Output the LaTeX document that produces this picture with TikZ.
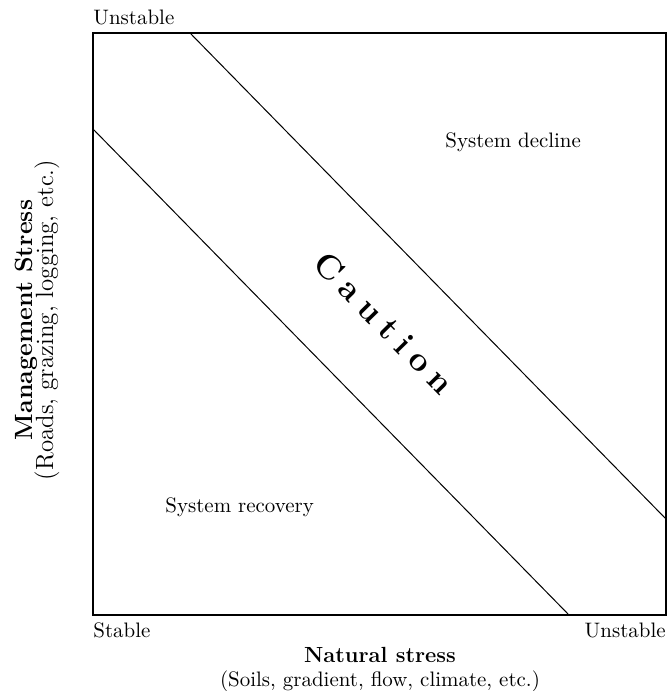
\documentclass[tikz,border=0pt]{standalone}
\usepackage{amsmath}
\usetikzlibrary{positioning, calc}

\tikzset{
	txt/.style={inner sep=0pt, font=\fontsize{10.5}{12}\selectfont},
	axis title/.style={inner sep=0pt, font=\fontsize{11}{13}\selectfont\bfseries},
	side/.style={inner sep=0pt, rotate=90, anchor=base},
	caution/.style={inner sep=0pt, rotate=-45.6, anchor=mid, font=\fontsize{17}{19}\selectfont\bfseries},
}
\newcommand{\gap}{\hspace{4.3pt}}

\begin{document}
\begin{tikzpicture}[x=0.5bp, y=-0.5bp]
	\useasboundingbox (0,0) rectangle (668,691);
	\coordinate (sw) at (93,615);
	\coordinate (nw) at (93,33);
	\coordinate (ne) at (666,33);
	\coordinate (se) at (666,615);
	\draw[line width=0.8bp] (sw) rectangle (ne);
	\coordinate (upper1) at (190,33);
	\coordinate (upper2) at (666,519);
	\coordinate (lower1) at (93,129);
	\coordinate (lower2) at (569,615);
	\draw[line width=0.5bp] (upper1)--(upper2);
	\draw[line width=0.5bp] (lower1)--(lower2);
	\node[txt, anchor=base west] (ytop) at ($(nw)+(0,-8)$) {Unstable};
	\node[txt, anchor=base west] (xlow) at ($(sw)+(0,22)$) {Stable};
	\node[txt, anchor=base east] (xtop) at ($(se)+(0,22)$) {Unstable};
	\node[axis title, anchor=base] (xtitle) at (380,662) {Natural stress};
	\node[txt, anchor=base] (xsub) at ($(xtitle.base)+(0,24)$) {(Soils, gradient, flow, climate, etc.)};
	\node[side, axis title, font=\fontsize{12.5}{14}\selectfont\bfseries] (ytitle) at (32,320) {Management Stress};
	\node[side, txt, font=\fontsize{12.5}{14}\selectfont] (ysub) at ($(ytitle.base)+(21,0)$) {(Roads, grazing, logging, etc.)};
	\node[txt, anchor=base west] (decline) at (445,147) {System decline};
	\node[txt, anchor=base west] (recovery) at (165,512) {System recovery};
	\node[caution] (caution) at (379,328) {C\gap a\gap u\gap t\gap i\gap o\gap n};
\end{tikzpicture}
\end{document}
